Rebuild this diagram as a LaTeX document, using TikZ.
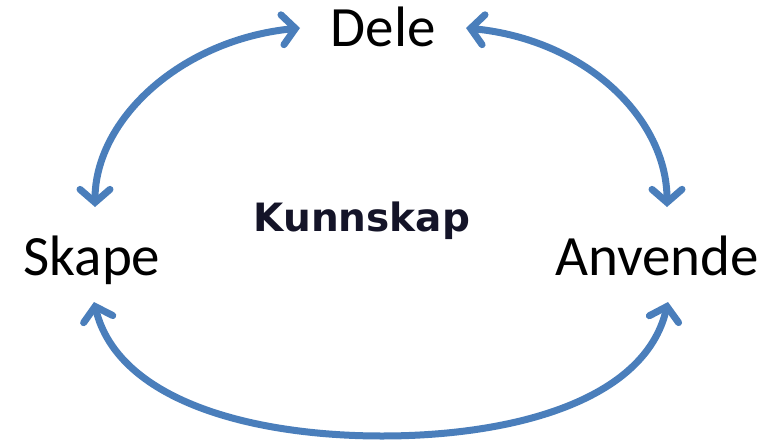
\documentclass[tikz,border=0pt]{standalone}
\usepackage{fontspec}
\setmainfont{Carlito}
\newfontfamily\kfont{DejaVu Sans}
\usetikzlibrary{arrows.meta}
\definecolor{arrblue}{RGB}{74,126,187}
\definecolor{kdark}{RGB}{20,20,40}
\tikzset{
  cyc/.style={draw=arrblue, line width=7pt, line cap=round,
    {Straight Barb[length=13pt,width=30pt,line cap=round,line width=7pt]}-{Straight Barb[length=13pt,width=30pt,line cap=round,line width=7pt]}},
  lbl/.style={anchor=base, inner sep=0pt, font=\fontsize{57}{62}\selectfont},
  klbl/.style={anchor=base, inner sep=0pt, font=\kfont\bfseries\fontsize{39}{42}\selectfont}
}
\begin{document}
\begin{tikzpicture}[x=1pt,y=-1pt]
\useasboundingbox (0,0) rectangle (783,446);
\node[lbl] (dele) at (383,47) {Dele};
\node[lbl] (skape) at (92,275) {Skape};
\node[lbl] (anvende) at (657,275) {Anvende};
\node[klbl, text=kdark] (kunnskap) at (362,231) {Kunnskap};
\coordinate (dl) at (300,28);
\coordinate (sl) at (95,207);
\coordinate (dr) at (466,28);
\coordinate (ar) at (667,207);
\coordinate (sb) at (94,302);
\coordinate (ab) at (668,302);
\draw[cyc] (dl) .. controls (180,40) and (95,120) .. (sl);
\draw[cyc] (dr) .. controls (588,40) and (667,120) .. (ar);
\draw[cyc] (sb) .. controls (118,400) and (250,436) .. (382,436) .. controls (515,436) and (645,400) .. (ab);
\end{tikzpicture}
\end{document}
